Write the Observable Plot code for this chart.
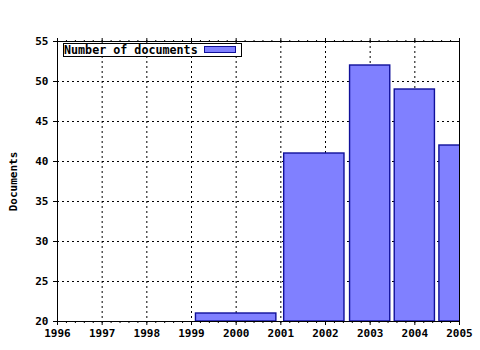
<!DOCTYPE html>
<html>
<head>
<meta charset="utf-8">
<script src="https://cdn.jsdelivr.net/npm/d3@7"></script>
<script src="https://cdn.jsdelivr.net/npm/@observablehq/plot@0.6"></script>
<style>
  body { margin: 0; background: #fff; }
  #wrap { position: relative; width: 480px; height: 350px; font-family: "DejaVu Sans Mono", monospace; font-weight: bold; font-size: 11px; }
  #legend { position: absolute; left: 63px; top: 43px; width: 177px; height: 12px; border: 1px solid #000; background: #fff; display: flex; align-items: center; font-size: 11.7px; }
  #legend span { margin-left: 0px; white-space: pre; }
  #legend .sw { position: absolute; left: 140px; top: 2px; width: 30px; height: 5px; background: #8080ff; border: 1px solid #10109a; }
</style>
</head>
<body>
<div id="wrap"></div>
<script>
const years = [2000, 2002, 2003, 2004, 2005];
const docs = [21, 41, 52, 49, 42];
const xTicks = [1996, 1997, 1998, 1999, 2000, 2001, 2002, 2003, 2004, 2005];
const yTicks = [20, 25, 30, 35, 40, 45, 50, 55];
const seriesName = "Number of documents";
const yTitle = "Documents";

// bar extents: between midpoints of neighbouring years, drawn at 90% width
const n = years.length;
const bars = years.map((yr, i) => {
  const left = i === 0 ? yr - (years[1] - years[0]) / 2 : (years[i - 1] + yr) / 2;
  const right = i === n - 1 ? yr + (yr - years[n - 2]) / 2 : (yr + years[i + 1]) / 2;
  const pad = (right - left) * 0.05;
  return {x1: left + pad, x2: right - pad, y: docs[i]};
});
const minorX = d3.range(0, 46).map(i => 1996 + i * 0.2).filter(v => v <= 2005.001);

const chart = Plot.plot({
  width: 480,
  height: 350,
  marginLeft: 57,
  marginRight: 21,
  marginTop: 41,
  marginBottom: 29,
  style: {fontFamily: "DejaVu Sans Mono, monospace", fontSize: "11px", fontWeight: "bold", color: "#000", background: "#fff"},
  x: {domain: [1996, 2005]},
  y: {domain: [20, 55]},
  marks: [
    Plot.gridX(xTicks, {stroke: "#000", strokeOpacity: 1, strokeDasharray: "2,3"}),
    Plot.gridY(yTicks, {stroke: "#000", strokeOpacity: 1, strokeDasharray: "2,3"}),
    Plot.rectY(bars, {x1: "x1", x2: "x2", y1: 20, y2: "y", fill: "#8080ff", stroke: "#10109a", strokeWidth: 1.4, clip: true}),
    Plot.frame({stroke: "#000"}),
    Plot.axisX(minorX, {anchor: "bottom", tickSize: 2, text: null, label: null}),
    Plot.axisX(xTicks, {anchor: "bottom", tickSize: 4, tickPadding: 4, tickFormat: d => String(d), label: null}),
    Plot.axisX(minorX, {anchor: "top", tickSize: 2, text: null, label: null}),
    Plot.axisX(xTicks, {anchor: "top", tickSize: 4, text: null, label: null}),
    Plot.axisY(yTicks, {anchor: "left", tickSize: 4, tickPadding: 5, label: yTitle, labelAnchor: "center", labelOffset: 48, labelArrow: "none"})
  ]
});
const wrap = document.getElementById("wrap");
wrap.appendChild(chart);
const lg = document.createElement("div");
lg.id = "legend";
lg.innerHTML = `<span>${seriesName}</span><div class="sw"></div>`;
wrap.appendChild(lg);
</script>
</body>
</html>
